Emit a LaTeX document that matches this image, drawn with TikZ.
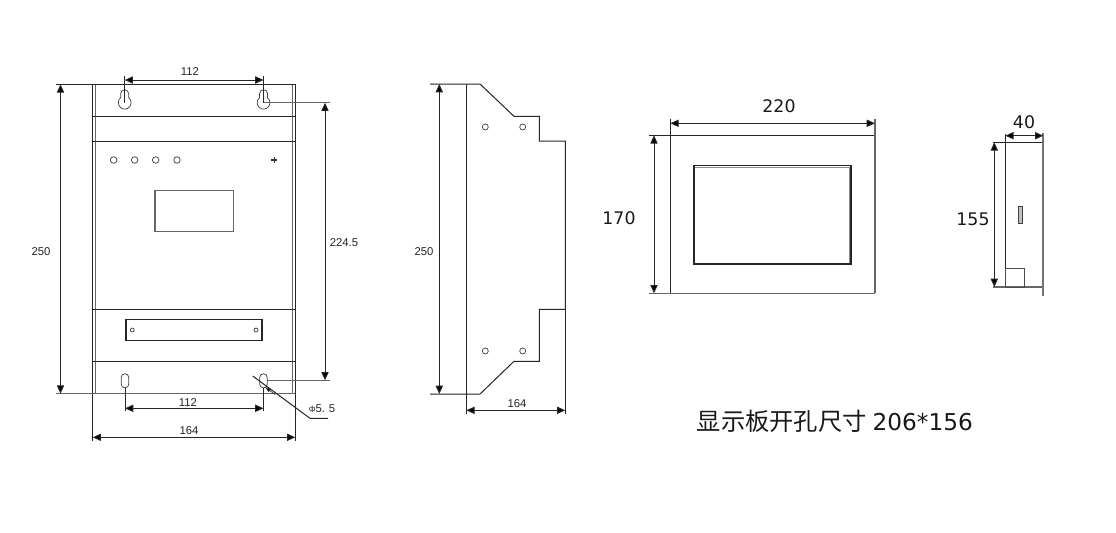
\documentclass[tikz,border=0pt]{standalone}
\usepackage{fontspec}
\setmainfont{Liberation Sans}
\newfontfamily\dejavu{DejaVu Sans}
\newfontfamily\cjkfont{Noto Sans CJK SC}
\usetikzlibrary{arrows.meta}
\tikzset{
  x=0.75pt,y=-0.75pt,
  ln/.style={draw=black!85,line width=0.75pt},
  gln/.style={draw=black!60,line width=0.85pt},
  dim/.style={draw=black!85,line width=0.75pt,{Triangle[length=6.2pt,width=5.4pt,fill=black]}-{Triangle[length=6.2pt,width=5.4pt,fill=black]}},
  hole/.style={draw=black!75,line width=0.55pt,fill=white},
  small/.style={font=\fontsize{8.5}{10}\selectfont,text=black!85,inner sep=0pt},
  big/.style={font=\dejavu\fontsize{13}{15}\selectfont,text=black!90,inner sep=0pt},
  keyhole/.pic={\draw[hole,fill=none] (-4,-9) arc[start angle=180,end angle=360,radius=4] -- (4,-5) arc[start angle=-51.3,end angle=231.3,radius=6.4] -- cycle;},
  slothole/.pic={\draw[hole,fill=none,rounded corners=2.6pt] (-3.7,-7) rectangle (3.7,7);}
}
\begin{document}
\begin{tikzpicture}
\useasboundingbox (0,0) rectangle (1116,532);
\fill[white] (0,0) rectangle (1116,532);
% ---------- front view ----------
\draw[ln] (92.7,84.3) -- (92.7,441);
\draw[ln] (295.3,84.3) -- (295.3,441);
\draw[gln] (95.7,84.3) -- (95.7,393.7);
\draw[gln] (292.7,84.3) -- (292.7,393.7);
\draw[ln] (56,84.3) -- (295.3,84.3);
\draw[gln] (56,393.7) -- (295.3,393.7);
\foreach \yy in {116.3,141.3,309.3,361.3} \draw[ln] (92.7,\yy) -- (295.3,\yy);
\pic at (124.7,102.7) {keyhole};
\pic at (263.5,102.7) {keyhole};
\draw[ln] (124.7,76) -- (124.7,102.7);
\draw[ln] (263.5,76) -- (263.5,102.7);
\draw[dim] (124.7,80) -- (263.5,80);
\node[small] (t112a) at (190,71.5) {112};
\draw[dim] (60.5,84.3) -- (60.5,393.7);
\node[small] (t250a) at (41,252) {250};
\draw[gln] (263.5,102.7) -- (330,102.7);
\draw[gln] (267,380.3) -- (330,380.3);
\draw[dim] (325,102.7) -- (325,380.3);
\node[small] (t224) at (344,243) {224.5};
\foreach \xx in {113.7,134.7,155.7,177} \draw[hole] (\xx,160) circle[radius=3.3];
\draw[black!80,line width=0.8pt] (274.3,157) -- (274.3,163) (271.4,160) -- (277.2,160);
\fill[black!80] (274.3,160) circle[radius=1.8];
\draw[gln] (155,190.7) rectangle (233.3,231.7);
\draw[draw=black!85,line width=0.9pt] (126,319.3) rectangle (262,340.7);
\draw[hole] (132.3,330) circle[radius=2];
\draw[hole] (256,330) circle[radius=2];
\pic at (125,380.8) {slothole};
\pic at (263.5,380.8) {slothole};
\draw[ln] (125,387.8) -- (125,411);
\draw[ln] (263.5,387.8) -- (263.5,411);
\draw[dim] (125,408.3) -- (263.5,408.3);
\node[small] (t112b) at (188,403) {112};
\draw[dim] (92.7,437.3) -- (295.3,437.3);
\node[small] (t164a) at (189,431) {164};
\draw[ln] (252.7,376) -- (310,418.3) -- (328,418.3);
\draw[draw=black!80,line width=0.5pt,-{Triangle[length=4.5pt,width=2.6pt,fill=black]}] (275,394.5) -- (265,387);
\node[small,anchor=west] (tphi) at (308.5,408.5) {{\fontsize{6.5}{8}\selectfont Φ}5.\,\,5};
% ---------- side view ----------
\draw[ln] (466.3,84) -- (466.3,414);
\draw[ln] (430,84) -- (480,84) -- (514,116.3) -- (539.3,116.3) -- (539.3,141) -- (565.3,141) -- (565.3,309.3) -- (539.3,309.3) -- (539.3,361.3) -- (514,361.3) -- (480,394) -- (430,394);
\draw[ln] (565.3,309.3) -- (565.3,414);
\foreach \xx/\yy in {485.3/127,522.7/127,485.3/351,522.7/351} \draw[hole] (\xx,\yy) circle[radius=3];
\draw[dim] (439.3,84) -- (439.3,394);
\node[small] (t250b) at (424,252) {250};
\draw[dim] (466.3,410.3) -- (565.3,410.3);
\node[small] (t164b) at (517,404) {164};
% ---------- panel front ----------
\draw[ln] (649.3,135.3) -- (875,135.3);
\draw[gln] (649.3,293.3) -- (875,293.3);
\draw[ln] (670.3,119) -- (670.3,293.3);
\draw[gln] (875,119) -- (875,293.3);
\draw[draw=black!85,line width=1pt] (694,165.4) rectangle (851,264);
\draw[draw=black!45,line width=0.5pt] (694.5,166.9) -- (849.8,166.9) -- (849.8,263);
\draw[dim] (670.3,123.3) -- (875,123.3);
\node[big] (t220) at (779,106) {220};
\draw[dim] (654,135.3) -- (654,293.3);
\node[big] (t170) at (619,218) {170};
% ---------- panel side ----------
\draw[ln] (993,142.3) -- (1043,142.3);
\draw[gln] (993,287) -- (1043,287);
\draw[ln] (1005.3,134) -- (1005.3,287);
\draw[draw=black!55,line width=1.6pt] (1043.3,133) -- (1043.3,295.7);
\draw[draw=black!75,fill=black!25,line width=0.55pt] (1018.7,206) rectangle (1022.7,223.3);
\draw[draw=black!70,line width=0.55pt] (1005.3,268.3) rectangle (1024.3,287);
\draw[dim] (1005.3,135.7) -- (1043.3,135.7);
\node[big] (t40) at (1024,122) {40};
\draw[dim] (994.3,142.3) -- (994.3,287);
\node[big] (t155) at (973,219) {155};
% ---------- caption ----------
\node[inner sep=0pt,anchor=base west,text=black!90] (cap) at (696.5,430.5) {{\cjkfont\fontsize{18.2}{20}\selectfont 显示板开孔尺寸}\hspace{4.5pt}{\dejavu\fontsize{17.4}{20}\selectfont 206*156}};
\end{tikzpicture}
\end{document}
